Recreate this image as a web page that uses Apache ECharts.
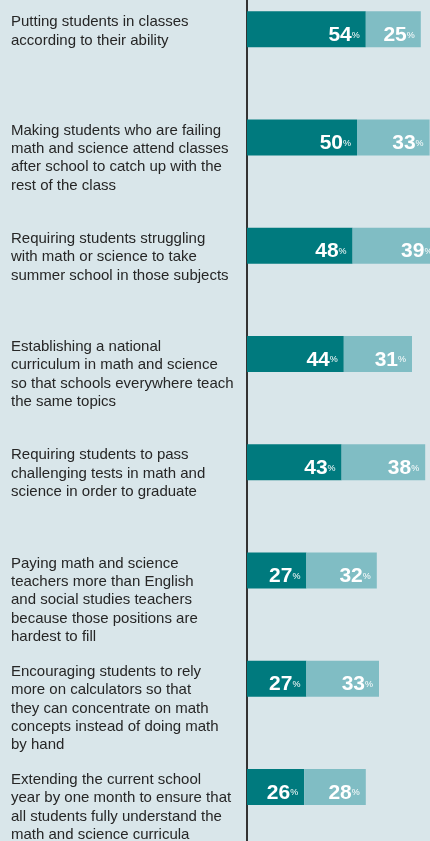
<!DOCTYPE html>
<html lang="en">

<head>
    <meta charset="UTF-8">
    <title>Support for math and science measures</title>
    <script src="https://cdn.jsdelivr.net/npm/echarts@6/dist/echarts.min.js"></script>
    <style>
        html, body { margin: 0; padding: 0; background: #d9e6ea; overflow: hidden; }
    </style>
</head>

<body>
    <div id="main" style="width:430px;height:841px"></div>
    <script>
        // questions, top to bottom
        var questions = [
            'Putting students in classes\naccording to their ability',
            'Making students who are failing\nmath and science attend classes\nafter school to catch up with the\nrest of the class',
            'Requiring students struggling\nwith math or science to take\nsummer school in those subjects',
            'Establishing a national\ncurriculum in math and science\nso that schools everywhere teach\nthe same topics',
            'Requiring students to pass\nchallenging tests in math and\nscience in order to graduate',
            'Paying math and science\nteachers more than English\nand social studies teachers\nbecause those positions are\nhardest to fill',
            'Encouraging students to rely\nmore on calculators so that\nthey can concentrate on math\nconcepts instead of doing math\nby hand',
            'Extending the current school\nyear by one month to ensure that\nall students fully understand the\nmath and science curricula'
        ]
        // dark segment / light segment (%)
        var darkValues = [54, 50, 48, 44, 43, 27, 27, 26]
        var lightValues = [25, 33, 39, 31, 38, 32, 33, 28]

        var myChart = echarts.init(document.getElementById('main'))

        var valueLabel = {
            show: true,
            position: 'insideRight',
            distance: 6,
            offset: [0, 6],
            formatter: function(p) {
                return '{v|' + p.value + '}{p|%}'
            },
            rich: {
                v: {
                    fontFamily: '"Liberation Sans", Arial, sans-serif',
                    fontWeight: 'bold',
                    fontSize: 21,
                    color: '#fff'
                },
                p: {
                    fontFamily: '"Liberation Sans", Arial, sans-serif',
                    fontSize: 9,
                    color: '#fff'
                }
            }
        }

        var option = {
            backgroundColor: '#d9e6ea',
            animation: false,
            grid: {
                left: 247,
                top: -25,
                width: 220,
                bottom: 0,
                outerBoundsMode: 'none'
            },
            xAxis: {
                type: 'value',
                min: 0,
                max: 100,
                show: false
            },
            yAxis: {
                type: 'category',
                data: questions,
                inverse: true,
                axisLine: { show: true, lineStyle: { color: '#333', width: 2 } },
                axisTick: { show: false },
                splitLine: { show: false },
                axisLabel: {
                    align: 'left',
                    verticalAlign: 'top',
                    margin: 236,
                    padding: [-16, 0, 0, 0],
                    fontFamily: '"Liberation Sans", Arial, sans-serif',
                    fontSize: 15,
                    lineHeight: 18.3,
                    color: '#262626'
                }
            },
            series: [{
                type: 'bar',
                stack: 'all',
                data: darkValues,
                barWidth: 36,
                itemStyle: { color: '#007a7e' },
                label: valueLabel
            }, {
                type: 'bar',
                stack: 'all',
                data: lightValues,
                barWidth: 36,
                itemStyle: { color: '#80bdc4' },
                label: valueLabel
            }]
        }
        myChart.setOption(option)
    </script>
</body>

</html>
